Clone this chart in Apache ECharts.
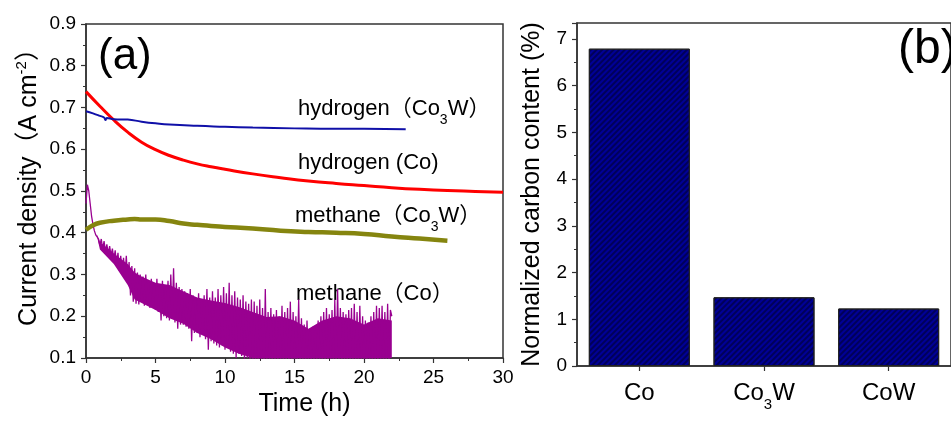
<!DOCTYPE html>
<html>
<head>
<meta charset="utf-8">
<script src="https://cdn.jsdelivr.net/npm/echarts@6/dist/echarts.min.js"></script>
<style>
  html, body { margin: 0; padding: 0; background: #fff; }
  #main { width: 951px; height: 422px; }
</style>
</head>
<body>
<div id="main"></div>
<script>
// (a) current density vs time
var h2CoTime = [0, 1, 2, 3, 4, 5, 6, 7, 8, 9, 10, 12, 14, 16, 18, 20, 22, 24, 26, 28, 30];
var h2CoVal = [0.738, 0.703, 0.670, 0.641, 0.617, 0.599, 0.585, 0.574, 0.565, 0.558, 0.552, 0.541, 0.532, 0.524, 0.518, 0.513, 0.508, 0.504, 0.501, 0.499, 0.497];

var h2Co3WTime = [0, 0.5, 1, 1.3, 1.4, 1.5, 2, 3, 4, 5, 6, 8, 10, 12, 15, 18, 20, 23];
var h2Co3WVal = [0.691, 0.686, 0.680, 0.676, 0.670, 0.675, 0.672, 0.671, 0.666, 0.662, 0.659, 0.656, 0.654, 0.652, 0.650, 0.649, 0.649, 0.648];

var ch4Co3WTime = [0, 0.5, 1, 2, 3, 3.5, 4, 5, 6, 7, 8, 9, 10, 12, 14, 16, 18, 20, 22, 24, 26];
var ch4Co3WVal = [0.407, 0.418, 0.424, 0.429, 0.432, 0.433, 0.432, 0.432, 0.428, 0.422, 0.419, 0.416, 0.414, 0.410, 0.405, 0.402, 0.400, 0.397, 0.391, 0.386, 0.381];

// methane (Co): dense noisy core of the trace (lower / upper edge)
var ch4CoCoreTime = [0.8, 1, 2, 3, 3.5, 4, 5, 6, 7, 8, 9, 10, 11, 12, 13, 14, 15, 16, 17, 18, 19, 20, 21, 22];
var ch4CoCoreLow = [0.39, 0.36, 0.325, 0.275, 0.24, 0.232, 0.215, 0.195, 0.182, 0.16, 0.145, 0.125, 0.11, 0.09, 0.08, 0.08, 0.08, 0.08, 0.08, 0.08, 0.08, 0.08, 0.08, 0.08];
var ch4CoCoreHigh = [0.395, 0.378, 0.35, 0.325, 0.305, 0.295, 0.28, 0.275, 0.26, 0.245, 0.238, 0.232, 0.222, 0.21, 0.198, 0.2, 0.19, 0.17, 0.19, 0.2, 0.195, 0.18, 0.195, 0.19];

// methane (Co): one reading every 0.1 h from 0 to 22 h (spikes)
var ch4CoStep = 0.1;
var ch4CoVal = [
  0.47, 0.515, 0.50, 0.47, 0.44, 0.42, 0.405, 0.395, 0.39, 0.385,
  0.37, 0.385, 0.36, 0.38, 0.355, 0.372, 0.35, 0.368, 0.345, 0.362,
  0.335, 0.358, 0.32, 0.352, 0.31, 0.345, 0.30, 0.34, 0.295, 0.345,
  0.28, 0.33, 0.25, 0.32, 0.235, 0.315, 0.23, 0.305, 0.228, 0.30,
  0.235, 0.295, 0.225, 0.30, 0.23, 0.285, 0.22, 0.29, 0.225, 0.28,
  0.215, 0.29, 0.21, 0.275, 0.19, 0.285, 0.20, 0.27, 0.195, 0.285,
  0.19, 0.30, 0.195, 0.315, 0.185, 0.28, 0.17, 0.27, 0.18, 0.265,
  0.18, 0.26, 0.175, 0.255, 0.17, 0.265, 0.14, 0.25, 0.16, 0.245,
  0.16, 0.255, 0.15, 0.24, 0.155, 0.25, 0.145, 0.265, 0.12, 0.245,
  0.14, 0.26, 0.135, 0.245, 0.13, 0.265, 0.125, 0.25, 0.13, 0.27,
  0.12, 0.255, 0.125, 0.28, 0.115, 0.25, 0.11, 0.26, 0.10, 0.245,
  0.11, 0.24, 0.105, 0.25, 0.09, 0.235, 0.10, 0.23, 0.08, 0.24,
  0.07, 0.235, 0.08, 0.225, 0.06, 0.24, 0.07, 0.22, 0.05, 0.265,
  0.06, 0.21, 0.08, 0.22, 0.07, 0.205, 0.08, 0.215, 0.07, 0.20,
  0.08, 0.225, 0.07, 0.21, 0.08, 0.22, 0.07, 0.235, 0.06, 0.21,
  0.07, 0.20, 0.08, 0.24, 0.07, 0.195, 0.08, 0.18, 0.07, 0.19,
  0.08, 0.17, 0.07, 0.175, 0.08, 0.165, 0.07, 0.19, 0.08, 0.20,
  0.07, 0.21, 0.08, 0.22, 0.07, 0.205, 0.08, 0.215, 0.07, 0.24,
  0.06, 0.265, 0.08, 0.22, 0.07, 0.21, 0.08, 0.205, 0.07, 0.215,
  0.08, 0.22, 0.07, 0.23, 0.08, 0.21, 0.07, 0.225, 0.08, 0.20,
  0.07, 0.19, 0.06, 0.185, 0.08, 0.20, 0.07, 0.21, 0.08, 0.225,
  0.07, 0.22, 0.08, 0.225, 0.07, 0.21, 0.08, 0.23, 0.07, 0.215,
  0.20
];

// (b) normalized carbon content
var catalysts = ['Co', 'Co3W', 'CoW'];
var carbonVal = [6.79, 1.47, 1.23];

var FONT = "'Liberation Sans', Arial, 'Noto Sans CJK SC', sans-serif";
var AXIS_COLOR = '#333';
var MAGENTA = '#990090';

function pairs(t, v) {
  return t.map(function (x, i) { return [x, v[i]]; });
}

var myChart = echarts.init(document.getElementById('main'));

var axisCommon = {
  axisLine: { show: true, lineStyle: { color: AXIS_COLOR, width: 1.5 } },
  axisTick: { show: true, inside: false, length: 5, lineStyle: { color: AXIS_COLOR, width: 1.2 } },
  minorTick: { show: true, splitNumber: 2, length: 3, lineStyle: { color: AXIS_COLOR, width: 1 } },
  splitLine: { show: false },
  axisLabel: { color: '#000', fontSize: 19, fontFamily: FONT, margin: 10 },
  nameTextStyle: { color: '#000', fontSize: 25, fontFamily: FONT }
};

function axis(extra) {
  return echarts.util.merge(echarts.util.clone(axisCommon), extra, true);
}

// band between the lower and upper edge of the noisy methane (Co) trace
function renderCore(params, api) {
  var pts = [];
  var i;
  for (i = 0; i < ch4CoCoreTime.length; i++) {
    pts.push(api.coord([ch4CoCoreTime[i], ch4CoCoreLow[i]]));
  }
  for (i = ch4CoCoreTime.length - 1; i >= 0; i--) {
    pts.push(api.coord([ch4CoCoreTime[i], ch4CoCoreHigh[i]]));
  }
  var cs = params.coordSys;
  pts = echarts.graphic.clipPointsByRect(pts, { x: cs.x, y: cs.y, width: cs.width, height: cs.height });
  return { type: 'polygon', shape: { points: pts }, style: { fill: MAGENTA } };
}

var option = {
  animation: false,
  backgroundColor: '#fff',
  textStyle: { fontFamily: FONT },
  grid: [
    { left: 86, right: 448, top: 24, bottom: 59, show: true, borderColor: AXIS_COLOR, borderWidth: 1.5, backgroundColor: 'transparent' },
    { left: 577, width: 383, top: 23, bottom: 56, show: true, borderColor: AXIS_COLOR, borderWidth: 1.5, backgroundColor: 'transparent' }
  ],
  xAxis: [
    axis({
      gridIndex: 0, type: 'value', min: 0, max: 30, interval: 5,
      name: 'Time (h)', nameLocation: 'middle', nameGap: 34,
      nameTextStyle: { padding: [0, 0, 0, 20] }
    }),
    axis({
      gridIndex: 1, type: 'category', data: catalysts,
      axisTick: { alignWithLabel: true },
      minorTick: { show: false },
      axisLabel: {
        interval: 0, fontSize: 24, lineHeight: 38, margin: 8,
        formatter: function (v) { return v.replace(/(\d)/, '{s|$1}'); },
        rich: { s: { fontSize: 15, lineHeight: 15, verticalAlign: 'bottom', color: '#000', fontFamily: FONT } }
      }
    })
  ],
  yAxis: [
    axis({
      gridIndex: 0, type: 'value', min: 0.1, max: 0.9, interval: 0.1,
      name: 'Current density（A cm{sup|-2}）', nameLocation: 'middle', nameGap: 42,
      nameTextStyle: {
        lineHeight: 30, padding: [0, 0, 0, 20],
        rich: { sup: { fontSize: 15, lineHeight: 15, verticalAlign: 'top', color: '#000', fontFamily: FONT } }
      }
    }),
    axis({
      gridIndex: 1, type: 'value', min: 0, max: 7.34, interval: 1,
      axisLabel: { showMaxLabel: false },
      name: 'Normalized carbon content (%)', nameLocation: 'middle', nameGap: 30,
      nameTextStyle: { lineHeight: 30 }
    })
  ],
  series: [
    {
      name: 'methane (Co) core', type: 'custom', xAxisIndex: 0, yAxisIndex: 0,
      data: [[ch4CoCoreTime[0], ch4CoCoreLow[0]]], silent: true,
      renderItem: renderCore
    },
    {
      name: 'methane (Co)', type: 'line', xAxisIndex: 0, yAxisIndex: 0,
      data: ch4CoVal.map(function (v, i) { return [i * ch4CoStep, v]; }),
      showSymbol: false, clip: true,
      lineStyle: { color: MAGENTA, width: 1.3 }
    },
    {
      name: 'methane (Co3W)', type: 'line', xAxisIndex: 0, yAxisIndex: 0,
      data: pairs(ch4Co3WTime, ch4Co3WVal), smooth: true,
      showSymbol: false, lineStyle: { color: '#85850f', width: 4.5 }
    },
    {
      name: 'hydrogen (Co)', type: 'line', xAxisIndex: 0, yAxisIndex: 0,
      data: pairs(h2CoTime, h2CoVal), smooth: true,
      showSymbol: false, lineStyle: { color: '#ff0000', width: 3 }
    },
    {
      name: 'hydrogen (Co3W)', type: 'line', xAxisIndex: 0, yAxisIndex: 0,
      data: pairs(h2Co3WTime, h2Co3WVal), smooth: true,
      showSymbol: false, lineStyle: { color: '#1010a8', width: 2 }
    },
    {
      name: 'carbon', type: 'bar', xAxisIndex: 1, yAxisIndex: 1,
      data: carbonVal, barCategoryGap: '19%',
      itemStyle: {
        color: '#000096', borderColor: '#222', borderWidth: 1,
        decal: {
          symbol: 'rect', symbolSize: 1, color: 'rgba(0,0,30,0.5)',
          dashArrayX: [1, 0], dashArrayY: [2, 2], rotation: -Math.PI / 4
        }
      }
    }
  ],
  graphic: [
    { type: 'text', x: 98, y: 57, style: { text: '(a)', fontSize: 44, fontFamily: FONT, fill: '#000', align: 'left', verticalAlign: 'middle' } },
    { type: 'text', x: 898, y: 50, style: { text: '(b)', fontSize: 48, fontFamily: FONT, fill: '#000', align: 'left', verticalAlign: 'middle' } },
    { type: 'text', x: 298, y: 109, style: {
      text: 'hydrogen（Co{s|3}W）', fontSize: 22, lineHeight: 36, fontFamily: FONT, fill: '#000', align: 'left', verticalAlign: 'middle',
      rich: { s: { fontSize: 14, lineHeight: 14, verticalAlign: 'bottom', fill: '#000', fontFamily: FONT } } } },
    { type: 'text', x: 298, y: 163, style: {
      text: 'hydrogen (Co)', fontSize: 22, lineHeight: 36, fontFamily: FONT, fill: '#000', align: 'left', verticalAlign: 'middle' } },
    { type: 'text', x: 295, y: 216, style: {
      text: 'methane（Co{s|3}W）', fontSize: 22, lineHeight: 36, fontFamily: FONT, fill: '#000', align: 'left', verticalAlign: 'middle',
      rich: { s: { fontSize: 14, lineHeight: 14, verticalAlign: 'bottom', fill: '#000', fontFamily: FONT } } } },
    { type: 'text', x: 296, y: 294, style: {
      text: 'methane（Co）', fontSize: 22, lineHeight: 36, fontFamily: FONT, fill: '#000', align: 'left', verticalAlign: 'middle' } }
  ]
};

myChart.setOption(option);
</script>
</body>
</html>
